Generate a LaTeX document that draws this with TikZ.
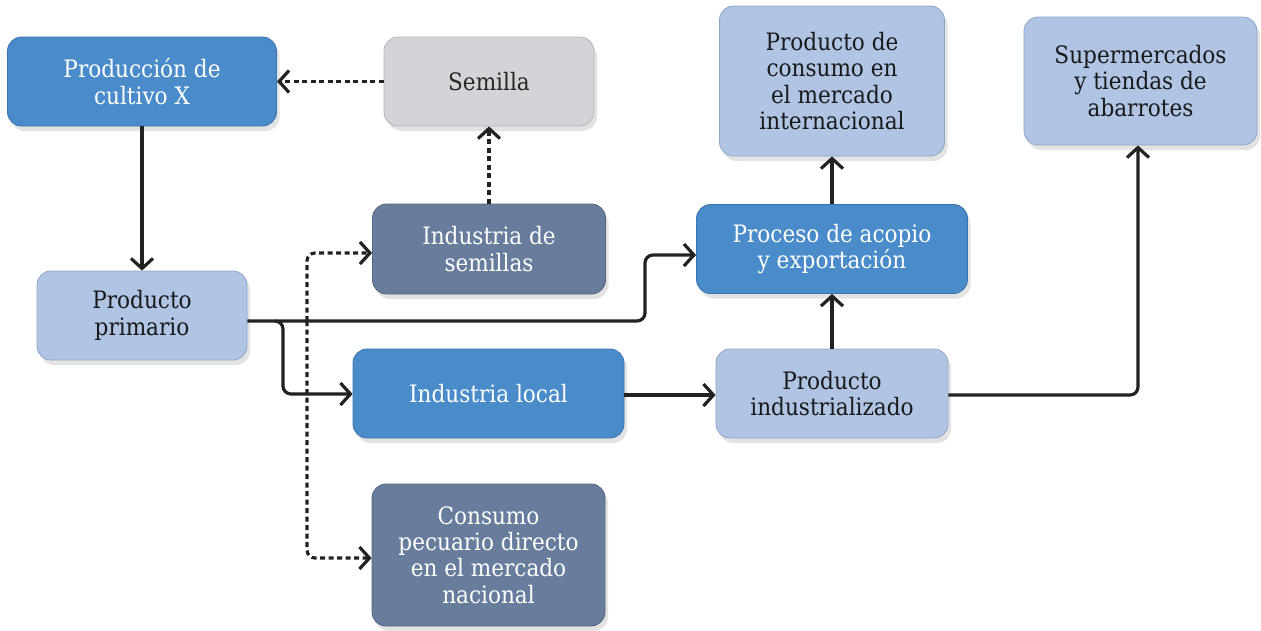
\documentclass[tikz,border=0pt]{standalone}
\usepackage{fontspec}
\setmainfont{DejaVu Serif Condensed}
\usetikzlibrary{arrows.meta,shadows,calc}
\definecolor{cblue}{HTML}{4A8BCA}
\definecolor{cbluedk}{HTML}{3A73AE}
\definecolor{clight}{HTML}{B0C4E4}
\definecolor{clightdk}{HTML}{8FA5C8}
\definecolor{cslate}{HTML}{687C9C}
\definecolor{cslatedk}{HTML}{52647F}
\definecolor{cgray}{HTML}{D2D4D8}
\definecolor{cgraydk}{HTML}{B4B7BD}
\definecolor{cline}{HTML}{222222}
\tikzset{
  box/.style={rounded corners=14pt, align=center, inner sep=0pt,
    font=\fontsize{24}{26.3}\selectfont,
    drop shadow={opacity=0.22, shadow xshift=3pt, shadow yshift=-5pt}},
  bluebox/.style={box, fill=cblue, draw=cbluedk, line width=0.8pt, text=white},
  lightbox/.style={box, fill=clight, draw=clightdk, line width=0.8pt, text=black!90},
  slatebox/.style={box, fill=cslate, draw=cslatedk, line width=0.8pt, text=white},
  graybox/.style={box, fill=cgray, draw=cgraydk, line width=0.8pt, text=black!85},
  conn/.style={draw=cline, line width=3.2pt, rounded corners=8pt,
    -{Straight Barb[length=10pt,width=22pt]}},
  dconn/.style={conn, dash pattern=on 5pt off 3.5pt},
}
\begin{document}
\begin{tikzpicture}[x=1pt,y=-1pt]
\useasboundingbox (0,0) rectangle (1261,630);
% nodes
\node[bluebox, minimum width=269pt, minimum height=89pt] (prod) at (142,81.5) {Producción de\\cultivo X};
\node[graybox, minimum width=210pt, minimum height=89pt] (sem) at (489,81.5) {Semilla};
\node[slatebox, minimum width=233pt, minimum height=90pt] (indsem) at (489,249) {Industria de\\semillas};
\node[lightbox, minimum width=210pt, minimum height=89pt] (prim) at (142,315.5) {Producto\\primario};
\node[bluebox, minimum width=271pt, minimum height=89pt] (loc) at (488.5,393.5) {Industria local};
\node[slatebox, minimum width=233pt, minimum height=142pt] (cons) at (488.5,555) {Consumo\\pecuario directo\\en el mercado\\nacional};
\node[lightbox, minimum width=225pt, minimum height=150pt] (intl) at (832,81) {Producto de\\consumo en\\el mercado\\internacional};
\node[lightbox, minimum width=233pt, minimum height=128pt] (super) at (1140.5,81) {Supermercados\\y tiendas de\\abarrotes};
\node[bluebox, minimum width=271pt, minimum height=89pt] (proc) at (832,249) {Proceso de acopio\\y exportación};
\node[lightbox, minimum width=232pt, minimum height=89pt] (pind) at (832,393.5) {Producto\\industrializado};
% coordinates
\coordinate (split) at (307,321);
% connectors
\draw[dconn] (sem.west) -- (prod.east);
\draw[dconn] (indsem.north) -- (sem.south);
\draw[conn] (prod.south) -- (prim.north);
\draw[conn] (prim.east |- 0,321) -- (645,321) -- (645,255) -- (proc.west |- 0,255);
\draw[conn] (275,321) -- (283,321) -- (283,394) -- (loc.west |- 0,394);
\draw[dconn] (split) -- (307,253) -- (indsem.west |- 0,253);
\draw[dconn] (split) -- (307,558) -- (cons.west |- 0,558);
\draw[conn] (loc.east |- 0,395) -- (pind.west |- 0,395);
\draw[conn] (pind.north) -- (proc.south);
\draw[conn] (proc.north) -- (intl.south);
\draw[conn] (pind.east |- 0,395) -- (1138,395) -- (super.south -| 1138,0);
\end{tikzpicture}
\end{document}
